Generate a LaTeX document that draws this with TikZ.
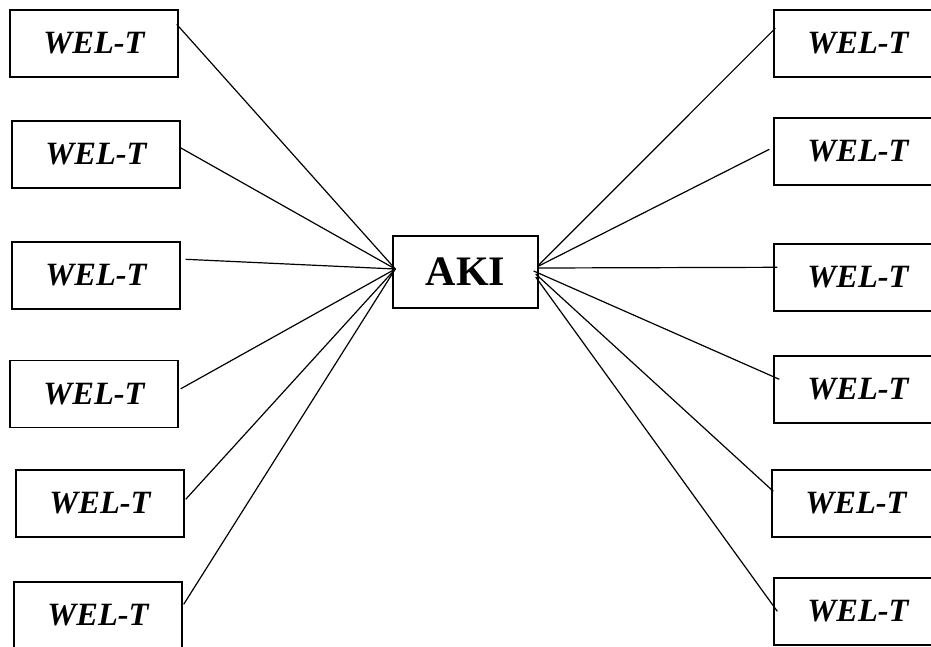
\documentclass[tikz,border=0pt]{standalone}
\usepackage{fontspec}
\setmainfont{Liberation Serif}
\begin{document}
\begin{tikzpicture}[x=1pt,y=-1pt,
  wbox/.style={draw,line width=1.4pt,rectangle,minimum width=168pt,minimum height=67pt,inner sep=0pt,font=\fontsize{32.5}{35}\selectfont\bfseries\itshape},
  abox/.style={draw,line width=1.4pt,rectangle,minimum width=145pt,minimum height=72pt,inner sep=0pt,font=\fontsize{42}{45}\selectfont\bfseries},
  conn/.style={line width=1.2pt}]
\useasboundingbox (0,0) rectangle (931,646);
\clip (0,0) rectangle (931,646);
\node[abox] (A) at (465.5,272) {AKI};
\node[wbox] (L1) at (94,43.5) {WEL-T};
\node[wbox] (L2) at (96,154.5) {WEL-T};
\node[wbox] (L3) at (96,275.5) {WEL-T};
\node[wbox] (L4) at (94,394) {WEL-T};
\node[wbox] (L5) at (100,503.5) {WEL-T};
\node[wbox] (L6) at (98,615.5) {WEL-T};
\node[wbox] (R1) at (858,43.5) {WEL-T};
\node[wbox] (R2) at (858,151.5) {WEL-T};
\node[wbox] (R3) at (858,277.5) {WEL-T};
\node[wbox] (R4) at (858,389.5) {WEL-T};
\node[wbox] (R5) at (856,503.5) {WEL-T};
\node[wbox] (R6) at (858,611.5) {WEL-T};
\coordinate (AL) at ([xshift=3pt,yshift=3pt]A.west);
\draw[conn] ([xshift=-2pt,yshift=-15pt]L1.north east) -- (AL);
\draw[conn] ([xshift=-1pt,yshift=-27pt]L2.north east) -- (AL);
\draw[conn] ([xshift=5pt,yshift=-18pt]L3.north east) -- (AL);
\draw[conn] ([xshift=2pt,yshift=-29pt]L4.north east) -- (AL);
\draw[conn] ([xshift=1pt,yshift=-30pt]L5.north east) -- (AL);
\draw[conn] ([xshift=1pt,yshift=-23pt]L6.north east) -- (AL);
\draw[conn] ([yshift=7pt]A.east) -- ([xshift=2pt,yshift=-19pt]R1.north west);
\draw[conn] ([yshift=6pt]A.east) -- ([xshift=-4pt,yshift=-32pt]R2.north west);
\draw[conn] ([yshift=4pt]A.east) -- ([xshift=4pt,yshift=-24pt]R3.north west);
\draw[conn] ([xshift=-5pt,yshift=1pt]A.east) -- ([xshift=6pt,yshift=-24pt]R4.north west);
\draw[conn] ([xshift=-3pt,yshift=-2pt]A.east) -- ([xshift=2pt,yshift=-22pt]R5.north west);
\draw[conn] ([xshift=-3pt,yshift=-5pt]A.east) -- ([xshift=4pt,yshift=-34pt]R6.north west);
\end{tikzpicture}
\end{document}
